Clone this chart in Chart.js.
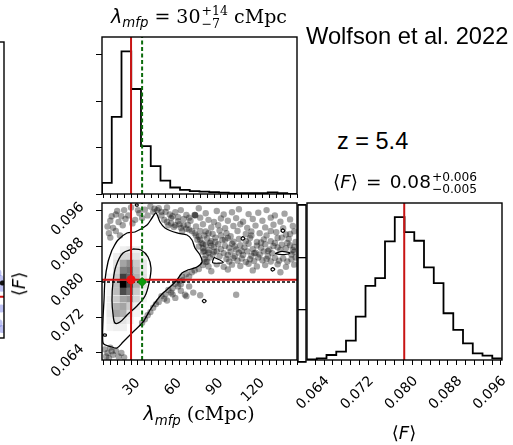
<!DOCTYPE html>
<html><head><meta charset="utf-8">
<script src="https://cdn.jsdelivr.net/npm/chart.js@4.4.1/dist/chart.umd.min.js"></script>
<style>
body{margin:0;background:#fff;}
#wrap{position:relative;width:513px;height:445px;overflow:hidden;background:#fff;}
canvas{position:absolute;}
.t{position:absolute;white-space:nowrap;color:#000;line-height:1;}
.serif{font-family:'DejaVu Serif',serif;}
.sans{font-family:'DejaVu Sans',sans-serif;}
.arial{font-family:'Liberation Sans',Arial,sans-serif;}
.it{font-family:'DejaVu Sans',sans-serif;font-style:italic;}
.sb{font-size:0.7em;vertical-align:-0.35em;}
.ss{display:inline-flex;flex-direction:column;vertical-align:middle;font-size:0.66em;line-height:1.0;margin-left:1px;}
.eq{margin:0 0.12em;}
</style></head>
<body>
<div id="wrap">
  <div class="t serif" id="t1" style="left:199px;top:5px;font-size:19px;transform:translateX(-50%)"><span class="it">λ</span><span class="it sb">mfp</span> = 30<span class="ss"><span>+14</span><span>−7</span></span> cMpc</div>
  <div class="t arial" style="left:306px;top:25px;font-size:23.7px;">Wolfson et al. 2022</div>
  <div class="t arial" style="left:337px;top:130px;font-size:23.5px;">z = 5.4</div>
  <div class="t sans" id="t4" style="left:405px;top:171px;font-size:18.5px;transform:translateX(-50%)">⟨<span class="it">F</span>⟩<span class="eq"> = </span>0.08<span class="ss"><span>+0.006</span><span>−0.005</span></span></div>
  <div class="t serif" id="t5" style="left:199px;top:404px;font-size:19px;transform:translateX(-50%)"><span class="it">λ</span><span class="it sb">mfp</span> (cMpc)</div>
  <div class="t sans" style="left:404px;top:424px;font-size:18px;transform:translateX(-50%)">⟨<span class="it">F</span>⟩</div>
  <div class="t sans" style="left:19px;top:284px;font-size:18px;transform:translate(-50%,-50%) rotate(-90deg)">⟨<span class="it">F</span>⟩</div>
</div>
<script>
// ---------------- DATA ----------------
const lambdaEdges = [9,16.05,23.1,30.15,37.2,44.25,51.3,58.35,65.4,72.45,79.5,86.55,93.6,100.65,107.7,114.75,121.8,128.85,135.9,142.95,150];
const lambdaHist  = [0.24,1.66,3.07,2.26,1.03,0.60,0.29,0.14,0.09,0.06,0.05,0.04,0.03,0.02,0.02,0.02,0.02,0.035,0.02,0.0];
const fluxEdges = [0.0625,0.06427,0.06603,0.0678,0.06956,0.07133,0.07309,0.07486,0.07662,0.07839,0.08015,0.08192,0.08368,0.08545,0.08721,0.08898,0.09074,0.09251,0.09427,0.09604,0.0978];
const fluxHist  = [2,5,15,25,58,130,222,245,355,428,383,357,277,230,140,90,50,20,13,5];
const lambdaTickLabels = [30,60,90,120];
const fluxTickLabels = [0.064,0.072,0.080,0.088,0.096];
const lambdaBest = 30, lambdaAlt = 38;
const fluxBest2D = 0.0805, fluxTruth = 0.0800, fluxBest1D = 0.0801;

const cellLambda = [14.8,19.6,24.45,29.25,34.05,38.9];
const cellFlux = [0.08725,0.08575,0.0842,0.08265,0.0811,0.07945,0.07785,0.07615,0.07445,0.0729,0.0713,0.0697];
const cellDensity = [
 [0,0,0.05,0.08,0.05,0],
 [0,0.05,0.15,0.15,0.10,0.04],
 [0,0.10,0.35,0.45,0.20,0.08],
 [0,0.15,0.50,0.55,0.25,0.08],
 [0.03,0.20,0.75,0.60,0.30,0.10],
 [0.03,0.25,1.00,0.70,0.30,0.10],
 [0.03,0.25,0.70,0.55,0.20,0.05],
 [0.05,0.20,0.35,0.40,0.15,0.03],
 [0.05,0.30,0.35,0.20,0.05,0],
 [0.08,0.35,0.30,0.10,0.03,0],
 [0.05,0.15,0.10,0.05,0,0],
 [0.03,0.05,0.05,0,0,0]
];

const innerContour = [[31.42,0.08743],[24.19,0.08653],[19.12,0.0836],[16.95,0.07999],[16.23,0.07593],[16.95,0.07277],[18.4,0.07074],[22.02,0.07097],[27.08,0.07255],[34.31,0.07458],[40.09,0.07683],[42.99,0.07976],[44.43,0.08315],[42.26,0.08563],[37.2,0.08721],[31.42,0.08743]];
const outerContour = [[16.23,0.08721],[20.57,0.08946],[27.08,0.09104],[32.86,0.09126],[41.54,0.09284],[45.16,0.09442],[48.05,0.09555],[50.94,0.09352],[54.56,0.09217],[63.23,0.09104],[70.46,0.09059],[74.08,0.08946],[76.25,0.08766],[79.86,0.08608],[81.31,0.0845],[77.69,0.08337],[71.19,0.0827],[66.85,0.08202],[63.23,0.08044],[58.17,0.07886],[53.11,0.07751],[48.77,0.07593],[43.71,0.07367],[38.65,0.07097],[31.42,0.06871],[24.19,0.06646],[19.85,0.06511],[16.23,0.06533],[9.72,0.06623],[9.72,0.07142],[10.45,0.07593],[11.17,0.08044],[13.34,0.0845],[16.23,0.08721]];
const islandContours = [
 [[89.99,0.08556],[96.71,0.08443],[89.05,0.08434],[89.99,0.08556]],
 [[134.1,0.0864],[138,0.08685],[142,0.0868],[145,0.08652],[141,0.08615],[137,0.08622],[134.1,0.0864]],
 [[109.3,0.0898],[110.8,0.0902],[112.3,0.0898],[110.8,0.0894],[109.3,0.0898]],
 [[138.2,0.09156],[139.7,0.09196],[141.2,0.09156],[139.7,0.09116],[138.2,0.09156]],
 [[130.9,0.08285],[132.4,0.08325],[133.9,0.08285],[132.4,0.08245],[130.9,0.08285]],
 [[81.3,0.0757],[82.8,0.0761],[84.3,0.0757],[82.8,0.0753],[81.3,0.0757]],
 [[10.0,0.0678],[12.0,0.0678],[12.0,0.0682],[10.0,0.0682],[10.0,0.0678]],
 [[33.2,0.0971],[35.0,0.0971],[35.0,0.0975],[33.2,0.0975],[33.2,0.0971]]
];
const scatterPoints = [
 [30,0.0968],[40,0.0963],[44,0.0970],[50,0.0966],[56,0.0968],[66,0.0962],[79,0.0966],[92,0.0960],[108,0.0964],[128,0.0962],
 [19,0.0952],[23,0.0948],[36,0.0955],[52,0.0958],[58,0.0952],[62,0.0957],[70,0.0951],[76,0.0951],[76.5,0.0950],[76.2,0.0951],[84,0.0955],[97,0.0952],[103,0.0957],[115,0.0953],[122,0.0956],[134,0.0950],[141,0.0954],
 [15,0.0938],[21,0.0935],[26,0.0942],[31,0.0932],[38,0.0944],[54,0.0940],[59,0.0944],[64,0.0937],[68,0.0942],[73,0.0938],[80,0.0945],[86,0.0940],[90,0.0935],[95,0.0943],[100,0.0938],[106,0.0944],[111,0.0936],[118,0.0942],[125,0.0938],[131,0.0945],[138,0.0936],[145,0.0941],
 [17,0.0922],[24,0.0928],[57,0.0928],[61,0.0924],[66,0.0922],[71,0.0929],[77,0.0925],[82,0.0930],[88,0.0923],[93,0.0928],[98,0.0921],[104,0.0926],[109,0.0930],[114,0.0922],[120,0.0927],[127,0.0923],[133,0.0929],[140,0.0921],[147,0.0926],
 [14,0.0910],[19,0.0915],[22,0.0905],[67,0.0915],[72,0.0918],[76,0.0910],[79,0.0902],[84,0.0914],[89,0.0908],[94,0.0916],[99,0.0910],[102,0.0903],[107,0.0915],[113,0.0908],[117,0.0914],[123,0.0910],[128,0.0905],[135,0.0912],[142,0.0907],[148,0.0914],
 [15,0.0900],[78,0.0895],[81,0.0888],[85,0.0898],[88,0.0892],[91,0.0900],[96,0.0894],[100,0.0899],[104,0.0891],[108,0.0897],[116,0.0899],[121,0.0890],[126,0.0896],[131,0.0892],[136,0.0899],[144,0.0897],[149,0.0890],
 [79,0.0880],[82,0.0876],[84,0.0884],[86,0.0872],[88,0.0882],[90,0.0878],[93,0.0885],[95,0.0874],[98,0.0881],[101,0.0877],[103,0.0886],[106,0.0873],[109,0.0883],[112,0.0878],[115,0.0886],[118,0.0874],[121,0.0882],[124,0.0877],[127,0.0885],[130,0.0873],[133,0.0881],[136,0.0878],[139,0.0884],[142,0.0876],[145,0.0883],[148,0.0879],
 [82,0.0868],[84,0.0860],[86,0.0866],[89,0.0862],[92,0.0869],[94,0.0858],[97,0.0865],[100,0.0861],[102,0.0868],[105,0.0858],[108,0.0866],[111,0.0861],[114,0.0869],[117,0.0859],[120,0.0866],[123,0.0862],[126,0.0869],[129,0.0858],[132,0.0865],[146,0.0862],[148,0.0868],
 [83,0.0852],[85,0.0846],[87,0.0855],[99,0.0852],[101,0.0846],[104,0.0854],[107,0.0848],[110,0.0853],[113,0.0845],[116,0.0851],[119,0.0847],[122,0.0855],[125,0.0849],[128,0.0852],[131,0.0846],[134,0.0854],[137,0.0848],[140,0.0853],[143,0.0846],[146,0.0851],[149,0.0855],
 [82,0.0838],[86,0.0835],[92,0.0840],[97,0.0834],[103,0.0839],[109,0.0836],[115,0.0841],[121,0.0835],[127,0.0838],[136,0.0840],[142,0.0834],[148,0.0839],
 [76,0.0826],[79,0.0829],[88,0.0824],[100,0.0828],[118,0.0826],[138,0.0822],
 [74,0.0822],[70,0.0818],[72,0.0812],[67,0.0812],[65,0.0802],[68,0.0805],[62,0.0796],[64,0.0790],[60,0.0786],[57,0.0782],[59,0.0776],[55,0.0772],[52,0.0768],[54,0.0762],[50,0.0755],[48,0.0750],[46,0.0742],[44,0.0732],[42,0.0725],[40,0.0716],[38,0.0708],[66,0.0795],
 [60,0.0772],[66,0.0780],[72,0.0790],[75,0.0776],[80,0.0770],[56,0.0758],[62,0.0764],[70,0.0768],[69,0.0771],[106,0.0771],
 [11,0.0648],[13,0.0640],[15,0.0652],[17,0.0636],[19,0.0645],[21,0.0632],[23,0.0640],[12,0.0632],[16,0.0644],[25,0.0630],[14,0.0628],
 [13,0.0925],[16,0.0948],[25,0.0962],[28,0.0950],[20,0.0960],[33,0.0940],[35,0.0962],[42,0.0950],[46,0.0958],[47,0.0965],
 [56,0.0935],[59,0.0932],[62,0.0928],[65,0.0930],[60,0.0948],[64,0.0946],[68,0.0928],[70,0.0920],[74,0.0915],[77,0.0905],[80,0.0895],[82,0.0885],[83,0.0870],[84,0.0845],[80,0.0915],[83,0.0905],[86,0.0910],[87,0.0888],[90,0.0868],[91,0.0890],[95,0.0905],[98,0.0895],[105,0.0880],[110,0.0870],[113,0.0892],[119,0.0865],[124,0.0889],[129,0.0870],[134,0.0888],[138,0.0872],[143,0.0888],[147,0.0872],[117,0.0905],[131,0.0915],[139,0.0900],[145,0.0908],[52,0.0950],[55,0.0958],[49,0.0962],[72,0.0945]
];
const leftPanelBlue = [[0.9,0.05],[0.95,0.1],[0.85,0.15],[0.92,0.2],[0.97,0.03],[0.88,0.22],[0.96,0.17]];
const leftPanelRed = 0.139;

// ---------------- HELPERS ----------------
Chart.defaults.font.family = "'DejaVu Sans', sans-serif";
Chart.defaults.color = '#000';
const wrap = document.getElementById('wrap');
function mkCanvas(left, top, w, h) {
  const c = document.createElement('canvas');
  c.width = w; c.height = h;
  c.style.left = left + 'px'; c.style.top = top + 'px';
  c.style.width = w + 'px'; c.style.height = h + 'px';
  wrap.insertBefore(c, wrap.firstChild);
  return c;
}
function fixAxis(size) {
  return function (scale) {
    if (scale.isHorizontal()) scale.height = size; else scale.width = size;
    scale.paddingLeft = 0; scale.paddingRight = 0; scale.paddingTop = 0; scale.paddingBottom = 0;
  };
}
const framePlugin = {
  id: 'frame',
  afterDatasetsDraw(chart) {
    const { ctx, chartArea: a } = chart;
    ctx.save(); ctx.strokeStyle = '#000'; ctx.lineWidth = 1.4;
    ctx.strokeRect(a.left, a.top, a.right - a.left, a.bottom - a.top);
    ctx.restore();
  }
};
function stepPoints(edges, vals) {
  const pts = [{ x: edges[0], y: 0 }];
  for (let i = 0; i < vals.length; i++) pts.push({ x: edges[i + 1], y: vals[i] });
  pts.push({ x: edges[edges.length - 1], y: 0 });
  return pts;
}
const toXY = arr => arr.map(p => ({ x: p[0], y: p[1] }));
const baseOpts = (padding) => ({
  responsive: false, animation: false, devicePixelRatio: 1,
  layout: { padding, autoPadding: false },
  plugins: { legend: { display: false }, tooltip: { enabled: false }, title: { display: false } },
  events: []
});
const tickFont = { family: "'DejaVu Sans', sans-serif", size: 14 };
const gridTicks = (len) => ({ drawOnChartArea: false, drawTicks: true, tickLength: len, color: '#000', lineWidth: 1 });

// ---------------- TOP HISTOGRAM (lambda) ----------------
const LMAX = 3.38;
new Chart(mkCanvas(0, 30, 300, 175), {
  type: 'line',
  data: { datasets: [
    { data: [{ x: lambdaAlt, y: 0 }, { x: lambdaAlt, y: LMAX }], borderColor: '#0b6b0b', borderWidth: 2, borderDash: [4, 2.5], pointRadius: 0, order: 1 },
    { data: [{ x: lambdaBest, y: 0 }, { x: lambdaBest, y: LMAX }], borderColor: '#c81414', borderWidth: 2, pointRadius: 0, order: 2 },
    { data: stepPoints(lambdaEdges, lambdaHist), stepped: 'after', borderColor: '#000', borderWidth: 1.8, pointRadius: 0, order: 3 }
  ] },
  options: Object.assign(baseOpts({ top: 7, right: 3, left: 0, bottom: 0 }), {
    scales: {
      x: { type: 'linear', min: 9, max: 150, ticks: { display: false, stepSize: 5, autoSkip: false, includeBounds: false }, grid: gridTicks(4), border: { display: false }, afterFit: fixAxis(11) },
      y: { type: 'linear', min: 0, max: LMAX, ticks: { display: false, stepSize: 1, includeBounds: false }, grid: gridTicks(6), border: { display: false }, afterFit: fixAxis(102) }
    }
  }),
  plugins: [framePlugin]
});

// ---------------- 2D PANEL ----------------
const cellPts = [], cellCols = [];
cellDensity.forEach((row, r) => row.forEach((d, c) => {
  if (d > 0) {
    cellPts.push({ x: cellLambda[c], y: cellFlux[r] });
    const g = Math.round(252 * (1 - d));
    cellCols.push('rgb(' + g + ',' + g + ',' + g + ')');
  }
}));
const ds2 = [
  { type: 'scatter', data: [{ x: lambdaAlt, y: fluxTruth }], pointStyle: 'rectRot', pointRadius: 4.5, pointBackgroundColor: '#0a9a0a', pointBorderColor: '#0a7a0a', pointBorderWidth: 1, order: 0 },
  { type: 'scatter', data: [{ x: lambdaBest, y: fluxBest2D }], pointStyle: 'circle', pointRadius: 4.5, pointBackgroundColor: '#ee1111', pointBorderWidth: 0, order: 1 },
  { type: 'line', data: [{ x: 9, y: fluxBest2D }, { x: 150, y: fluxBest2D }], borderColor: '#d01010', borderWidth: 2, pointRadius: 0, order: 2 },
  { type: 'line', data: [{ x: lambdaBest, y: 0.0624 }, { x: lambdaBest, y: 0.0978 }], borderColor: '#d01010', borderWidth: 2, pointRadius: 0, order: 3 },
  { type: 'line', data: [{ x: lambdaAlt, y: 0.0624 }, { x: lambdaAlt, y: 0.0978 }], borderColor: '#0b6b0b', borderWidth: 2, borderDash: [4, 2.5], pointRadius: 0, order: 4 },
  { type: 'line', data: [{ x: 9, y: fluxTruth }, { x: 150, y: fluxTruth }], borderColor: '#000', borderWidth: 1.5, borderDash: [3, 2], pointRadius: 0, order: 5 },
  { type: 'line', data: toXY(innerContour), borderColor: '#000', borderWidth: 1.3, pointRadius: 0, tension: 0.35, order: 7 },
  { type: 'line', data: toXY(outerContour), borderColor: '#000', borderWidth: 1.3, pointRadius: 0, tension: 0.3, order: 7 }
];
islandContours.forEach(loop => ds2.push({ type: 'line', data: toXY(loop), borderColor: '#000', borderWidth: 1.2, pointRadius: 0, tension: 0.3, fill: 'shape', backgroundColor: '#fff', order: 6 }));
ds2.push({ type: 'scatter', data: toXY(scatterPoints), pointRadius: 3.2, pointBackgroundColor: 'rgba(15,15,15,0.38)', pointBorderWidth: 0, clip: 0, order: 9 });
ds2.push({ type: 'scatter', data: cellPts, pointStyle: 'rect', pointRadius: 5, pointBackgroundColor: cellCols, pointBorderWidth: 0, clip: 0, order: 10 });

new Chart(mkCanvas(0, 195, 300, 250), {
  type: 'scatter',
  data: { datasets: ds2 },
  options: Object.assign(baseOpts({ top: 8, right: 3, left: 0, bottom: 0 }), {
    scales: {
      x: { type: 'linear', min: 9, max: 150,
        ticks: { stepSize: 5, autoSkip: false, includeBounds: false, minRotation: 45, maxRotation: 45, font: tickFont, color: '#000', padding: 10, labelOffset: 7,
          callback: v => lambdaTickLabels.includes(v) ? String(v) : '' },
        grid: gridTicks(5), border: { display: false }, afterFit: fixAxis(85) },
      y: { type: 'linear', min: 0.0624, max: 0.0978,
        ticks: { stepSize: 0.008, includeBounds: false, minRotation: 45, maxRotation: 45, font: tickFont, color: '#000', padding: 14, labelOffset: -6,
          callback: v => v.toFixed(3) },
        grid: gridTicks(6), border: { display: false }, afterFit: fixAxis(102) }
    }
  }),
  plugins: [framePlugin]
});

// ---------------- RIGHT HISTOGRAM (flux) ----------------
const FMAX = 470;
new Chart(mkCanvas(250, 195, 263, 250), {
  type: 'line',
  data: { datasets: [
    { data: [{ x: fluxBest1D, y: 0 }, { x: fluxBest1D, y: FMAX }], borderColor: '#c81414', borderWidth: 2, pointRadius: 0, order: 1 },
    { data: stepPoints(fluxEdges, fluxHist), stepped: 'after', borderColor: '#000', borderWidth: 1.8, pointRadius: 0, order: 2 }
  ] },
  options: Object.assign(baseOpts({ top: 8, right: 11, left: 57, bottom: 0 }), {
    scales: {
      x: { type: 'linear', min: 0.0625, max: 0.0978,
        ticks: { stepSize: 0.0016, autoSkip: false, includeBounds: false, minRotation: 45, maxRotation: 45, font: tickFont, color: '#000', padding: 8, labelOffset: 12,
          callback: v => fluxTickLabels.some(t => Math.abs(t - v) < 1e-7) ? v.toFixed(3) : '' },
        grid: gridTicks(5), border: { display: false }, afterFit: fixAxis(85) },
      y: { type: 'linear', display: false, min: 0, max: FMAX }
    }
  }),
  plugins: [framePlugin]
});

// ---------------- NARROW BOX between panels ----------------
new Chart(mkCanvas(296, 200, 14, 166), {
  type: 'line',
  data: { datasets: [{ data: [] }] },
  options: Object.assign(baseOpts({ top: 5, right: 4, left: 2, bottom: 4 }), {
    scales: {
      x: { type: 'linear', display: false, min: 0, max: 1 },
      y: { type: 'linear', min: 0, max: 3, ticks: { display: false, stepSize: 1 }, grid: { drawTicks: false, color: '#000', lineWidth: 1.3 }, border: { display: false }, afterFit: fixAxis(0) }
    }
  }),
  plugins: [framePlugin]
});

// ---------------- LEFT PARTIAL PANEL ----------------
new Chart(mkCanvas(-50, 30, 56, 320), {
  type: 'scatter',
  data: { datasets: [
    { type: 'line', data: [{ x: 0, y: leftPanelRed }, { x: 1, y: leftPanelRed }], borderColor: '#d01010', borderWidth: 2, pointRadius: 0, order: 0 },
    { data: [{ x: 0.97, y: 0.186 }], pointRadius: 2.5, pointBackgroundColor: '#111', order: 1 },
    { data: toXY(leftPanelBlue), pointRadius: 4, pointBackgroundColor: 'rgba(70,80,220,0.35)', pointBorderWidth: 0, order: 2 }
  ] },
  options: Object.assign(baseOpts({ top: 12, right: 2, left: 0, bottom: 12 }), {
    scales: { x: { type: 'linear', display: false, min: 0, max: 1 }, y: { type: 'linear', display: false, min: 0, max: 1 } }
  }),
  plugins: [framePlugin]
});
</script>
</body></html>
